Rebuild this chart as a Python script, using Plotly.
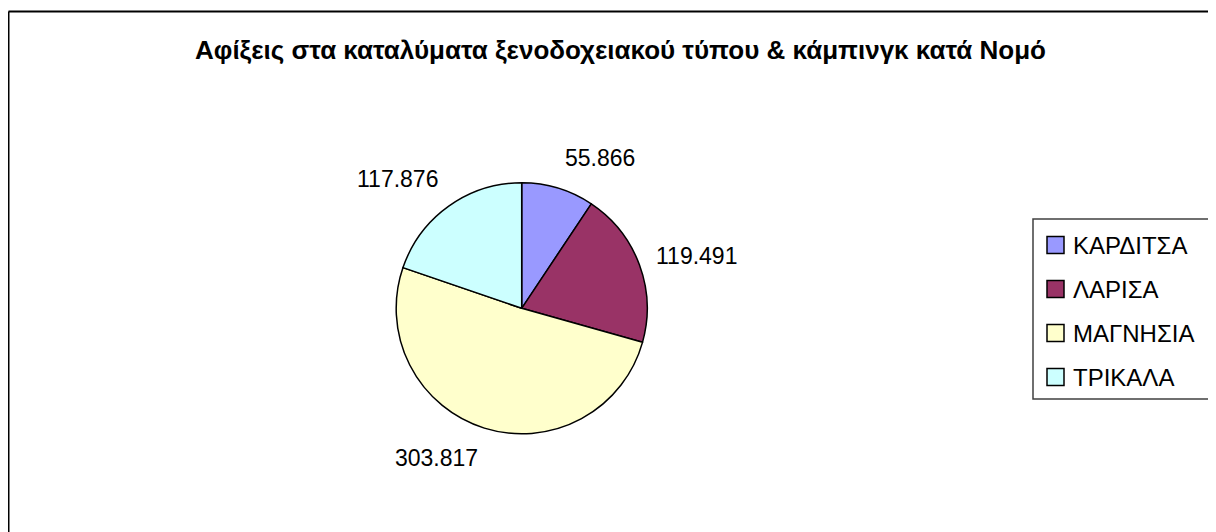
import math
import plotly.graph_objects as go

# ---- data ----
categories = ["ΚΑΡΔΙΤΣΑ", "ΛΑΡΙΣΑ", "ΜΑΓΝΗΣΙΑ", "ΤΡΙΚΑΛΑ"]
values = [55866, 119491, 303817, 117876]
colors = ["#9999FF", "#993366", "#FFFFCC", "#CCFFFF"]
title_text = "Αφίξεις στα καταλύματα ξενοδοχειακού τύπου &amp; κάμπινγκ κατά Νομό"

W, H = 1216, 532
OFF = 8  # page body margin
FONT = "Liberation Sans, Arial, sans-serif"

# pie geometry (screen pixels)
cx, cy, r = 521.7, 308.3, 125.5


def px(x):
    return (x - OFF) / W


def py(y):
    return 1 - (y - OFF) / H


def fmt(v):
    return f"{v:,}".replace(",", ".")


fig = go.Figure()
fig.add_trace(go.Pie(
    labels=categories,
    values=values,
    marker=dict(colors=colors, line=dict(color="#000000", width=1.5)),
    sort=False,
    direction="clockwise",
    rotation=0,
    textinfo="none",
    hoverinfo="label+value",
    showlegend=False,
    domain=dict(x=[px(cx - r), px(cx + r)], y=[py(cy + r), py(cy - r)]),
))

annotations = []
shapes = []

# data labels computed from slice mid-angles
total = sum(values)
cum = 0
D = 141
for v in values:
    mid = (cum + v / 2) / total * 2 * math.pi
    cum += v
    ux, uy = math.sin(mid), math.cos(mid)  # uy positive = up
    x = cx + D * ux
    y = cy - D * uy
    xa = "left" if ux > 0.2 else ("right" if ux < -0.2 else "center")
    ya = "bottom" if uy > 0.5 else ("top" if uy < -0.5 else "middle")
    if ya == "middle":
        y -= uy * 10
    annotations.append(dict(
        x=px(x), y=py(y), xref="paper", yref="paper",
        text=fmt(v), showarrow=False, xanchor=xa, yanchor=ya,
        font=dict(family=FONT, size=23, color="#000000"),
    ))

# title
annotations.append(dict(
    x=px(620), y=py(50), xref="paper", yref="paper",
    text="<b>" + title_text + "</b>", showarrow=False,
    xanchor="center", yanchor="middle",
    font=dict(family=FONT, size=26, color="#000000"),
))

# chart area border (top and left visible)
shapes.append(dict(type="line", xref="paper", yref="paper",
                   x0=px(8.5), x1=1.0, y0=py(11.5), y1=py(11.5),
                   line=dict(color="#000000", width=2)))
shapes.append(dict(type="line", xref="paper", yref="paper",
                   x0=px(8.5), x1=px(8.5), y0=py(11.5), y1=0.0,
                   line=dict(color="#000000", width=2)))

# legend box
shapes.append(dict(type="rect", xref="paper", yref="paper",
                   x0=px(1033), x1=px(1213), y0=py(399), y1=py(219),
                   line=dict(color="#404040", width=1.5), fillcolor="rgba(0,0,0,0)"))
row0, step = 245, 44
for i, (cat, col) in enumerate(zip(categories, colors)):
    yc = row0 + i * step
    shapes.append(dict(type="rect", xref="paper", yref="paper",
                       x0=px(1047), x1=px(1064), y0=py(yc + 8.5), y1=py(yc - 8.5),
                       line=dict(color="#000000", width=1.5), fillcolor=col))
    annotations.append(dict(
        x=px(1071), y=py(yc), xref="paper", yref="paper",
        text=cat, showarrow=False, xanchor="left", yanchor="middle",
        font=dict(family=FONT, size=24, color="#000000"),
    ))

fig.update_layout(
    width=W, height=H,
    margin=dict(l=0, r=0, t=0, b=0),
    paper_bgcolor="#FFFFFF",
    plot_bgcolor="#FFFFFF",
    annotations=annotations,
    shapes=shapes,
    font=dict(family=FONT),
)

fig.write_html("out.html", config={"displayModeBar": False})
